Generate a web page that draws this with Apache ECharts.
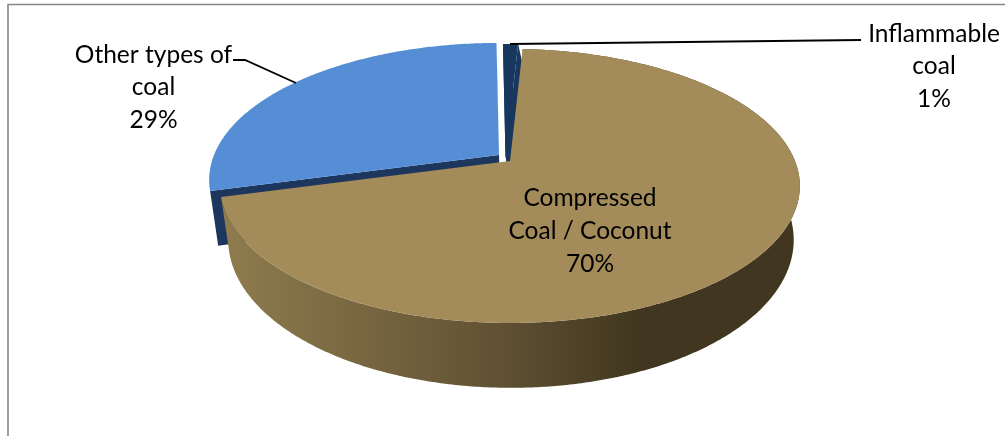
<!DOCTYPE html>
<html>
<head>
<meta charset="utf-8">
<style>html,body{margin:0;padding:0;background:#fff}#c{width:1005px;height:436px}</style>
<script src="https://cdn.jsdelivr.net/npm/echarts@6/dist/echarts.min.js"></script>
</head>
<body>
<div id="c"></div>
<script>
var categories = ['Other types of coal', 'Inflammable coal', 'Compressed Coal / Coconut'];
var shares = [29, 1, 70];
var labelLines = [['Other types of', 'coal', '29%'], ['Inflammable', 'coal', '1%'], ['Compressed', 'Coal / Coconut', '70%']];
var topColors = ['#558ed5', '#17375e', '#a38c59'];
var sideColors = ['#1c365e', '#17375e', null];

// layout of the tilted, exploded pie
var startDeg = 255;
var apexes = [[499, 155], [505.5, 156], [510, 161]];
var topPlane = {rx: 285, ry: 132.5, dy: 0};
var basePlane = {rx: 278, ry: 143, dy: 52};
var baseShiftX = [1, 10, 1];
var persp = 0.182;
var labelPos = [[153.5, 55, 32.5], [934, 34, 32.5], [590, 198, 33]];
var leaders = [[[233, 60], [245, 60], [296, 83]], [[510, 44], [861, 40]]];

function project(apex, plane, dx, deg) {
  var t = deg * Math.PI / 180, u = Math.sin(t), v = -Math.cos(t), s = 1 / (1 - persp * v);
  return [apex[0] + dx + plane.rx * u * s, apex[1] + plane.dy + plane.ry * v * s];
}
function arc(apex, plane, dx, a, b) {
  var pts = [], n = Math.max(2, Math.ceil(Math.abs(b - a) * 2));
  for (var i = 0; i <= n; i++) pts.push(project(apex, plane, dx, a + (b - a) * i / n));
  return pts;
}

var total = shares.reduce(function (a, b) { return a + b; }, 0);
var wallGradient = new echarts.graphic.LinearGradient(222, 0, 800, 0, [
  {offset: 0, color: '#8f7c4e'}, {offset: 0.48, color: '#605133'},
  {offset: 0.72, color: '#41361f'}, {offset: 1, color: '#41361f'}
], true);

function renderSlice(params, api) {
  var i = params.dataIndex, before = 0;
  for (var k = 0; k < i; k++) before += shares[k];
  var a = startDeg + before / total * 360, b = a + api.value(0) / total * 360;
  var apex = apexes[i], kids = [], dx = baseShiftX[i];
  var topApex = [apex[0], apex[1]], baseApex = [apex[0] + dx, apex[1] + basePlane.dy];
  if (sideColors[i]) {
    [a, b].forEach(function (ang) {
      kids.push({type: 'polygon', shape: {points: [topApex, project(apex, topPlane, 0, ang), project(apex, basePlane, dx, ang), baseApex]},
        style: {fill: sideColors[i]}});
    });
  } else {
    kids.push({type: 'polygon', shape: {points: arc(apex, topPlane, 0, a, b).concat(arc(apex, basePlane, dx, b, a))},
      style: {fill: wallGradient}});
  }
  kids.push({type: 'polygon', shape: {points: [topApex].concat(arc(apex, topPlane, 0, a, b))}, style: {fill: topColors[i]}});
  return {type: 'group', children: kids};
}
function renderLabel(params) {
  var i = params.dataIndex, p = labelPos[i], kids = [];
  labelLines[i].forEach(function (line, j) {
    kids.push({type: 'text', style: {text: line, x: p[0], y: p[1] + j * p[2], align: 'center', verticalAlign: 'middle',
      font: '24.5px Lato, "Open Sans", sans-serif', fill: '#000'}});
  });
  if (leaders[i]) kids.push({type: 'polyline', shape: {points: leaders[i]}, style: {stroke: '#000', lineWidth: 1.8, fill: null}});
  return {type: 'group', children: kids};
}

var seriesData = categories.map(function (name, i) { return {name: name, value: [shares[i]]}; });
var chart = echarts.init(document.getElementById('c'), null, {renderer: 'canvas'});
chart.setOption({
  animation: false,
  backgroundColor: '#fff',
  graphic: [{type: 'polyline', silent: true, shape: {points: [[8, 436], [8, 4.5], [1005, 4.5]]}, style: {stroke: '#868686', lineWidth: 1.6, fill: null}}],
  series: [
    {type: 'custom', coordinateSystem: 'none', silent: true, renderItem: renderSlice, data: seriesData, z: 2},
    {type: 'custom', coordinateSystem: 'none', silent: true, renderItem: renderLabel, data: seriesData, z: 3}
  ]
});
</script>
</body>
</html>
